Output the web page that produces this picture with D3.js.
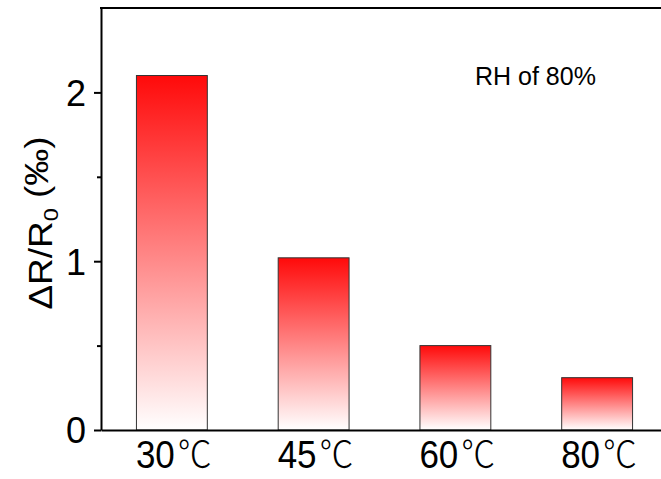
<!DOCTYPE html>
<html>
<head>
<meta charset="utf-8">
<script src="https://cdn.jsdelivr.net/npm/d3@7"></script>
<style>
  body { margin: 0; background: #fff; }
  svg { display: block; }
  text { font-family: "Liberation Sans", Arial, sans-serif; fill: #000; }
</style>
</head>
<body>
<svg id="chart" width="661" height="479"></svg>
<script>
// Relative resistance change at different temperatures (RH 80%)
const categories = ["30", "45", "60", "80"];
const values = [2.10, 1.02, 0.50, 0.31];
const yTicks = [0, 1, 2];
const yMinorTicks = [0.5, 1.5];
const unitSuffix = "℃";
const annotation = "RH of 80%";

const svg = d3.select("#chart");
const plotLeft = 101, plotRight = 668, plotTop = 8, plotBottom = 430;

const x = d3.scaleBand()
  .domain(categories)
  .range([plotLeft, plotRight])
  .paddingInner(0.5)
  .paddingOuter(0.25);

const y = d3.scaleLinear()
  .domain([0, 2.5])
  .range([plotBottom, plotTop]);

// vertical red-to-white fill, one per bar (bounding-box units)
const grad = svg.append("defs").append("linearGradient")
  .attr("id", "barFill")
  .attr("x1", 0).attr("y1", 0).attr("x2", 0).attr("y2", 1);
grad.append("stop").attr("offset", 0).attr("stop-color", "#ff0a0a");
grad.append("stop").attr("offset", 1).attr("stop-color", "#ffffff");

svg.append("g").selectAll("rect")
  .data(values)
  .join("rect")
  .attr("x", (d, i) => x(categories[i]))
  .attr("y", d => y(d))
  .attr("width", x.bandwidth())
  .attr("height", d => y(0) - y(d))
  .attr("fill", "url(#barFill)")
  .attr("stroke", "#333")
  .attr("stroke-width", 1);

// frame line along the top
svg.append("line")
  .attr("x1", plotLeft - 1).attr("x2", 661)
  .attr("y1", plotTop).attr("y2", plotTop)
  .attr("stroke", "#000").attr("stroke-width", 2);

// y axis: major ticks with labels
const yAxis = svg.append("g")
  .attr("transform", `translate(${plotLeft},0)`)
  .call(d3.axisLeft(y).tickValues(yTicks).tickSize(7).tickSizeOuter(0)
    .tickPadding(8).tickFormat(d3.format("d")));
yAxis.select(".domain").attr("stroke-width", 2);
yAxis.selectAll(".tick line").attr("stroke-width", 2);
yAxis.selectAll(".tick text")
  .style("font-size", "36px")
  .attr("dy", "0.36em");

// y axis: minor ticks
const yMinor = svg.append("g")
  .attr("transform", `translate(${plotLeft},0)`)
  .call(d3.axisLeft(y).tickValues(yMinorTicks).tickSize(4).tickSizeOuter(0).tickFormat(""));
yMinor.select(".domain").remove();
yMinor.selectAll(".tick line").attr("stroke-width", 2);

// x axis with temperature labels (glyphs slightly tall)
const xAxis = svg.append("g")
  .attr("transform", `translate(0,${plotBottom})`)
  .call(d3.axisBottom(x).tickSize(0).tickSizeOuter(0).tickFormat(""));
xAxis.select(".domain").attr("stroke-width", 2);
const xText = xAxis.selectAll(".tick").append("text")
  .attr("transform", "translate(2,38) scale(1,1.1)")
  .attr("text-anchor", "middle")
  .style("font-size", "35px");
xText.append("tspan").text(d => d);
xText.append("tspan")
  .attr("dx", 3)
  .style("font-family", "'Noto Sans CJK SC', 'DejaVu Sans', sans-serif")
  .style("font-weight", 300)
  .style("font-size", "34px")
  .text(unitSuffix);

// y axis title: ΔR/R0 (‰)
const yTitle = svg.append("text")
  .attr("transform", "translate(52,223) rotate(-90) scale(1.12,1)")
  .attr("text-anchor", "middle")
  .style("font-size", "33px");
yTitle.append("tspan").text("ΔR/R");
yTitle.append("tspan").attr("dy", "0.3em").style("font-size", "21px").text("0");
yTitle.append("tspan").attr("dy", "-0.3em").text("\u00a0(‰)");

// condition note
svg.append("text")
  .attr("x", 475)
  .attr("y", 85)
  .style("font-size", "25px")
  .text(annotation);
</script>
</body>
</html>
